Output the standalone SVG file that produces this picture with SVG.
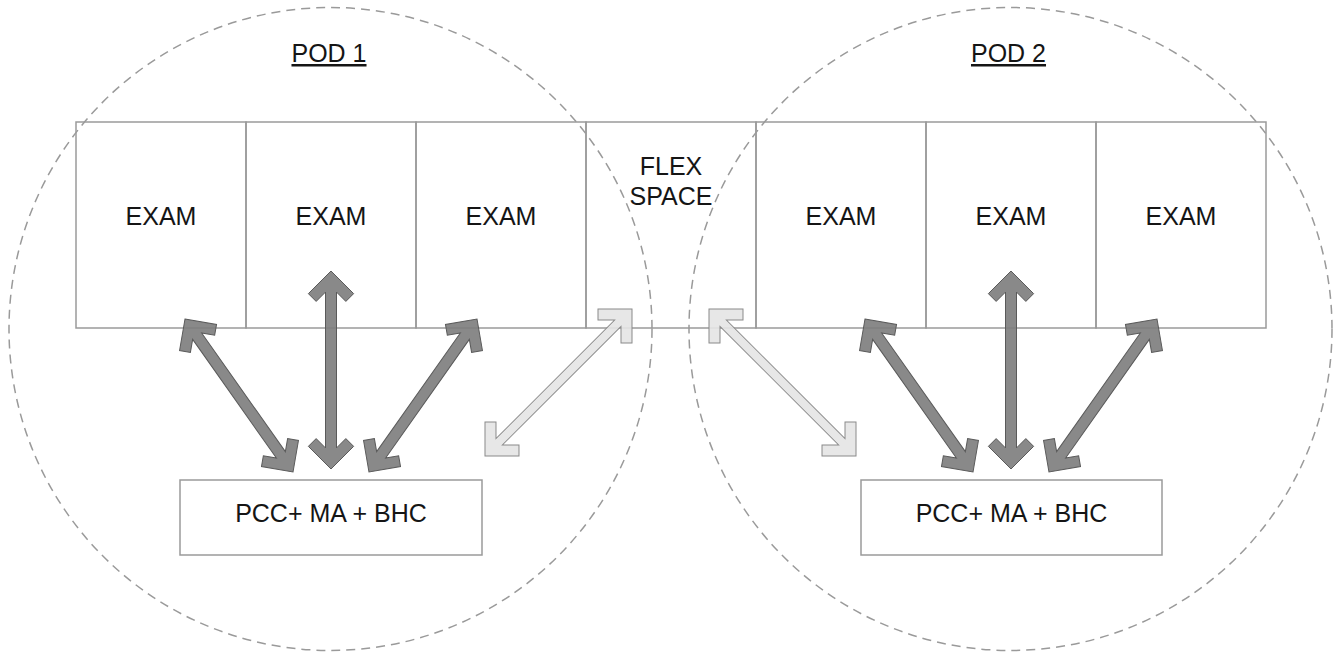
<svg xmlns="http://www.w3.org/2000/svg" xmlns:xlink="http://www.w3.org/1999/xlink" width="1342" height="653" viewBox="0 0 1342 653">
<style>
.bg{fill:#ffffff}
.pod{fill:none;stroke:#9a9a9a;stroke-width:1.5;stroke-dasharray:9 6}
.room{fill:none;stroke:#9a9a9a;stroke-width:1.5}
.box{fill:#ffffff;stroke:#9a9a9a;stroke-width:1.5}
.t{font-family:"Liberation Sans",Arial,sans-serif;font-size:25px;fill:#151515;text-anchor:middle}
.dark{fill:#7c7c7c;fill-opacity:0.9;stroke:#5a5a5a;stroke-width:1}
.light{fill:#e4e4e4;fill-opacity:0.9;stroke:#8a8a8a;stroke-width:1}
</style>
<defs>
<polygon id="arrD" points="0,0 22.63,-22.63 30.41,-14.85 21.06,-5.5 166.24,-5.5 156.89,-14.85 164.67,-22.63 187.3,0 164.67,22.63 156.89,14.85 166.24,5.5 21.06,5.5 30.41,14.85 22.63,22.63"/>
<polygon id="arrV" points="0,0 22.63,-22.63 30.41,-14.85 21.06,-5.5 176.94,-5.5 167.59,-14.85 175.37,-22.63 198,0 175.37,22.63 167.59,14.85 176.94,5.5 21.06,5.5 30.41,14.85 22.63,22.63"/>
<polygon id="arrL" points="0,0 24.04,-24.04 31.82,-16.26 20.06,-4.5 187.84,-4.5 176.08,-16.26 183.86,-24.04 207.9,0 183.86,24.04 176.08,16.26 187.84,4.5 20.06,4.5 31.82,16.26 24.04,24.04"/>
</defs>
<rect class="bg" x="0" y="0" width="1342" height="653"/>
<g id="pod1">
<circle class="pod" cx="330.5" cy="329" r="321.5"/>
<text class="t" x="329" y="62" text-decoration="underline">POD 1</text>
</g>
<g id="pod2">
<circle class="pod" cx="1010.5" cy="329" r="321.5"/>
<text class="t" x="1008.5" y="62" text-decoration="underline">POD 2</text>
</g>
<g id="exam1"><rect class="room" x="76" y="122" width="170" height="206"/><text class="t" x="161" y="225">EXAM</text></g>
<g id="exam2"><rect class="room" x="246" y="122" width="170" height="206"/><text class="t" x="331" y="225">EXAM</text></g>
<g id="exam3"><rect class="room" x="416" y="122" width="170" height="206"/><text class="t" x="501" y="225">EXAM</text></g>
<g id="flex"><rect class="room" x="586" y="122" width="170" height="206"/><text class="t" x="671" y="175">FLEX</text><text class="t" x="671" y="205">SPACE</text></g>
<g id="exam4"><rect class="room" x="756" y="122" width="170" height="206"/><text class="t" x="841" y="225">EXAM</text></g>
<g id="exam5"><rect class="room" x="926" y="122" width="170" height="206"/><text class="t" x="1011" y="225">EXAM</text></g>
<g id="exam6"><rect class="room" x="1096" y="122" width="170" height="206"/><text class="t" x="1181" y="225">EXAM</text></g>
<g id="team1"><rect class="box" x="180" y="480" width="302" height="75"/><text class="t" x="331" y="522">PCC+ MA + BHC</text></g>
<g id="team2"><rect class="box" x="861" y="480" width="301" height="75"/><text class="t" x="1011.5" y="522">PCC+ MA + BHC</text></g>
<g id="connectors">
<use xlink:href="#arrD" class="dark" transform="translate(185,319) rotate(54.78)"/>
<use xlink:href="#arrV" class="dark" transform="translate(331,271) rotate(90)"/>
<use xlink:href="#arrD" class="dark" transform="translate(477,319) rotate(125.22)"/>
<use xlink:href="#arrD" class="dark" transform="translate(865,319) rotate(54.78)"/>
<use xlink:href="#arrV" class="dark" transform="translate(1011,271) rotate(90)"/>
<use xlink:href="#arrD" class="dark" transform="translate(1157,319) rotate(125.22)"/>
<use xlink:href="#arrL" class="light" transform="translate(632,309) rotate(135)"/>
<use xlink:href="#arrL" class="light" transform="translate(709,309) rotate(45)"/>
</g>
</svg>
